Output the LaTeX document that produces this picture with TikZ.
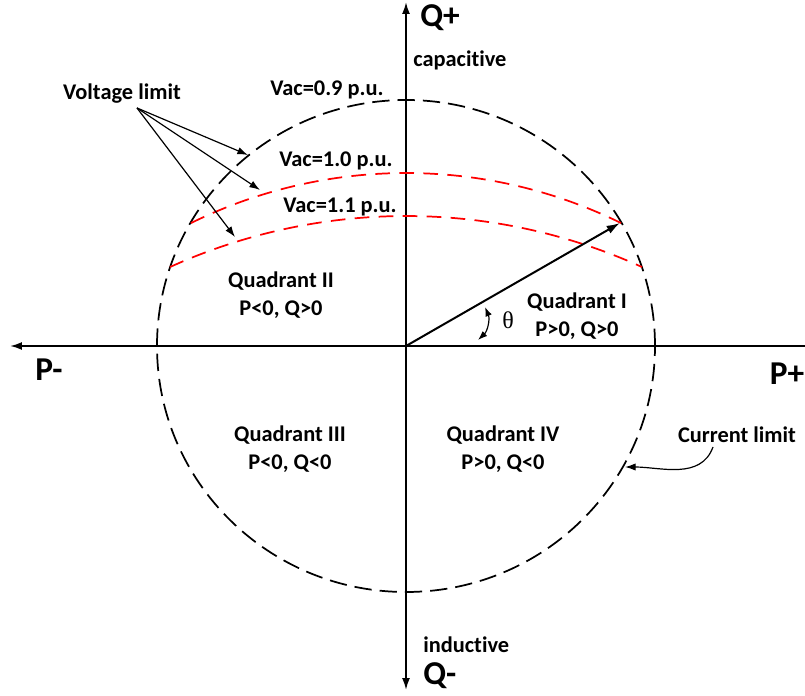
\documentclass[tikz,border=0pt]{standalone}
\usepackage{fontspec}
\setmainfont[Ligatures=NoCommon]{Carlito}
\newfontfamily\thetafont{Liberation Serif}
\usetikzlibrary{arrows.meta}
\tikzstyle{txt} = [
    font=\fontsize{16.8}{21}\selectfont\bfseries,
    align=center,
    inner sep=0pt
]
\tikzstyle{bigtxt} = [
    font=\fontsize{25}{30}\selectfont\bfseries,
    inner sep=0pt
]
\tikzstyle{axis} = [line width=1.4pt, >={Latex[length=9pt,width=6pt]}]
\tikzstyle{ilimit} = [line width=1.3pt, dash pattern=on 13pt off 6pt]
\tikzstyle{vlimit} = [line width=1.3pt, red, dash pattern=on 11pt off 7pt]
\tikzstyle{pointer} = [line width=0.9pt, -{Latex[length=8pt,width=5.5pt]}]
\tikzstyle{vector} = [line width=1.5pt, -{Latex[length=10pt,width=6.5pt]}]

\begin{document}
\begin{tikzpicture}[x=0.75pt, y=0.75pt]
\useasboundingbox (-406,-349) rectangle (399,346);

% axes
\coordinate (O) at (0,0);
\coordinate (pminus) at (-396,0);
\coordinate (pplus) at (399,0);
\coordinate (qtop) at (0,344);
\coordinate (qbot) at (0,-344);
\draw [axis, ->] (pplus) -- (pminus);
\draw [axis, <->] (qbot) -- (qtop);

\node (qplus) [bigtxt, anchor=west] at (14,328) {Q+};
\node (cap) [txt, anchor=west] at (7,286) {capacitive};
\node (ind) [txt, anchor=west] at (17,-299) {inductive};
\node (qminus) [bigtxt, anchor=west] at (17,-330) {Q-};
\node (pm) [bigtxt] at (-357,-24) {P-};
\node (pp) [bigtxt] at (381,-28) {P+};

% current limit circle
\draw [ilimit] (O) ellipse [x radius=249, y radius=246];

% voltage limits
\draw [vlimit] (0,-314) ++(116.2:487) arc [start angle=116.2, end angle=63.8, radius=487];
\draw [vlimit] (0,-441.5) ++(114.4:571.5) arc [start angle=114.4, end angle=65.6, radius=571.5];

\node (vac09) [txt] at (-79,256) {Vac=0.9 p.u.};
\node (vac10) [txt] at (-70,185) {Vac=1.0 p.u.};
\node (vac11) [txt] at (-66,139) {Vac=1.1 p.u.};

\node (vlim) [txt] at (-284,252) {Voltage limit};
\coordinate (vsrc) at (-269,238);
\coordinate (v09) at (-158,191);
\coordinate (v10) at (-146,156);
\coordinate (v11) at (-171,109);
\draw [pointer] (vsrc) -- (v09);
\draw [pointer] (vsrc) -- (v10);
\draw [pointer] (vsrc) -- (v11);

% operating point
\coordinate (S) at (214,123);
\draw [vector] (O) -- (S);
\coordinate (t1) at (72,6);
\coordinate (t2) at (79,39);
\draw [line width=0.9pt, {Latex[length=7pt,width=5pt]}-{Latex[length=7pt,width=5pt]}] (t1) to [bend right=35] (t2);
\node (theta) at (102,26) {\thetafont\fontsize{18}{20}\selectfont θ};

% quadrants
\node (q1) [txt] at (171,30) {Quadrant I\\P>0, Q>0};
\node (q2) [txt] at (-125,51) {Quadrant II\\P<0, Q>0};
\node (q3) [txt] at (-116,-103) {Quadrant III\\P<0, Q<0};
\node (q4) [txt] at (97,-103) {Quadrant IV\\P>0, Q<0};

\node (ilim) [txt] at (331,-89) {Current limit};
\coordinate (isrc) at (307,-101);
\coordinate (iend) at (219,-121);
\draw [pointer] (isrc) to [out=250, in=0] (iend);

\end{tikzpicture}
\end{document}
